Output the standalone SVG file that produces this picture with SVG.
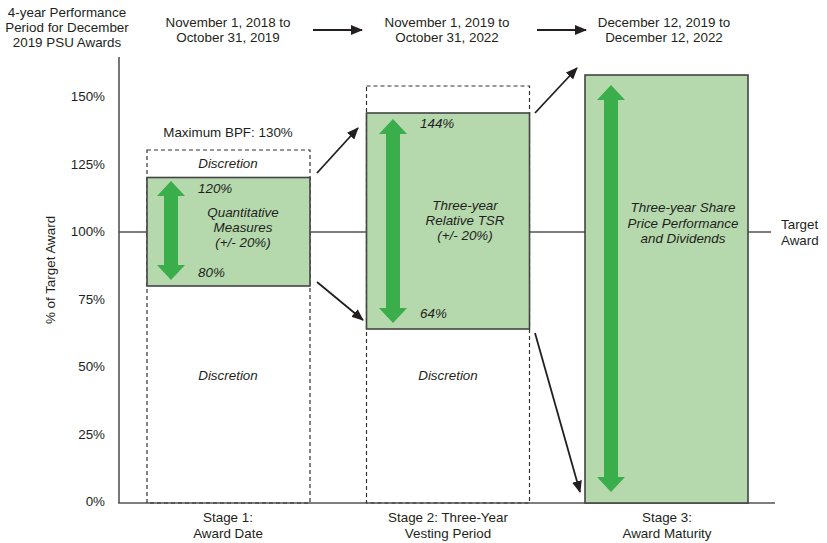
<svg xmlns="http://www.w3.org/2000/svg" width="827" height="543" viewBox="0 0 827 543">
<defs>
<style>
text{font-family:"Liberation Sans",Arial,sans-serif;font-size:13.4px;fill:#231f20}
.c{text-anchor:middle}
.r{text-anchor:end}
.i{font-style:italic}
.axis{stroke:#555;stroke-width:1.6;fill:none}
.dash{stroke:#333;stroke-width:1.2;fill:none;stroke-dasharray:4 3}
.box{fill:#b6d8ad;stroke:#444;stroke-width:1.6}
.garrow{fill:#3aae4a}
.conn{stroke:#231f20;stroke-width:1.8;fill:none}
</style>
<marker id="ah" viewBox="0 0 12 10" refX="11" refY="5" markerWidth="12" markerHeight="10" markerUnits="userSpaceOnUse" orient="auto">
<path d="M0,0 L12,5 L0,10 Z" fill="#231f20"/>
</marker>
</defs>

<g id="header">
<text class="c" x="67" y="17">4-year Performance</text>
<text class="c" x="67" y="32">Period for December</text>
<text class="c" x="67" y="47">2019 PSU Awards</text>
</g>
<g id="period1">
<text class="c" x="228" y="27">November 1, 2018 to</text>
<text class="c" x="228" y="42">October 31, 2019</text>
</g>
<g id="period2">
<text class="c" x="447" y="27">November 1, 2019 to</text>
<text class="c" x="447" y="42">October 31, 2022</text>
</g>
<g id="period3">
<text class="c" x="664" y="27">December 12, 2019 to</text>
<text class="c" x="664" y="42">December 12, 2022</text>
</g>

<g id="axes">
<line class="axis" x1="119" y1="57" x2="119" y2="503"/>
<line class="axis" x1="118" y1="503" x2="775" y2="503"/>
<line class="axis" x1="119" y1="232" x2="771" y2="232"/>
<text class="r" x="105" y="101">150%</text>
<text class="r" x="105" y="169">125%</text>
<text class="r" x="105" y="236">100%</text>
<text class="r" x="105" y="304">75%</text>
<text class="r" x="105" y="371">50%</text>
<text class="r" x="105" y="439">25%</text>
<text class="r" x="105" y="506">0%</text>
<text class="c" transform="translate(55,270) rotate(-90)">% of Target Award</text>
</g>

<g id="target-award">
<text x="781" y="229">Target</text>
<text x="781" y="245">Award</text>
</g>

<g id="stage1">
<text class="c" x="228" y="137">Maximum BPF: 130%</text>
<rect class="dash" x="147" y="150" width="163" height="353"/>
<text class="c i" x="228" y="168">Discretion</text>
<rect class="box" x="147" y="177.5" width="163" height="108.5"/>
<polygon class="garrow" points="171,181 185,196 178,196 178,265 185,265 171,280 157,265 164,265 164,196 157,196"/>
<text class="i" x="198" y="193">120%</text>
<text class="c i" x="243" y="217">Quantitative</text>
<text class="c i" x="243" y="232">Measures</text>
<text class="c i" x="243" y="247">(+/- 20%)</text>
<text class="i" x="198" y="277">80%</text>
<text class="c i" x="228" y="380">Discretion</text>
<text class="c" x="228" y="522">Stage 1:</text>
<text class="c" x="228" y="538">Award Date</text>
</g>

<g id="stage2">
<rect class="dash" x="366.5" y="86" width="163" height="417"/>
<rect class="box" x="366.5" y="113" width="163" height="216"/>
<polygon class="garrow" points="393,119 407,134 400,134 400,308 407,308 393,323 379,308 386,308 386,134 379,134"/>
<text class="i" x="420" y="128">144%</text>
<text class="c i" x="465" y="210">Three-year</text>
<text class="c i" x="465" y="225">Relative TSR</text>
<text class="c i" x="465" y="240">(+/- 20%)</text>
<text class="i" x="420" y="318">64%</text>
<text class="c i" x="448" y="380">Discretion</text>
<text class="c" x="448" y="522">Stage 2: Three-Year</text>
<text class="c" x="448" y="538">Vesting Period</text>
</g>

<g id="stage3">
<rect class="box" x="585" y="75" width="163" height="428"/>
<polygon class="garrow" points="611,85 625,100 618,100 618,477 625,477 611,492 597,477 604,477 604,100 597,100"/>
<text class="c i" x="683" y="212">Three-year Share</text>
<text class="c i" x="683" y="228">Price Performance</text>
<text class="c i" x="683" y="243">and Dividends</text>
<text class="c" x="667" y="522">Stage 3:</text>
<text class="c" x="667" y="538">Award Maturity</text>
</g>

<g id="connectors">
<line class="conn" x1="313" y1="30" x2="362" y2="30" marker-end="url(#ah)"/>
<line class="conn" x1="537" y1="30" x2="586" y2="30" marker-end="url(#ah)"/>
<line class="conn" x1="317" y1="173" x2="358" y2="128" marker-end="url(#ah)"/>
<line class="conn" x1="317" y1="282" x2="363" y2="320" marker-end="url(#ah)"/>
<line class="conn" x1="535" y1="113" x2="577" y2="68" marker-end="url(#ah)"/>
<line class="conn" x1="535" y1="333" x2="580" y2="492" marker-end="url(#ah)"/>
</g>
</svg>
